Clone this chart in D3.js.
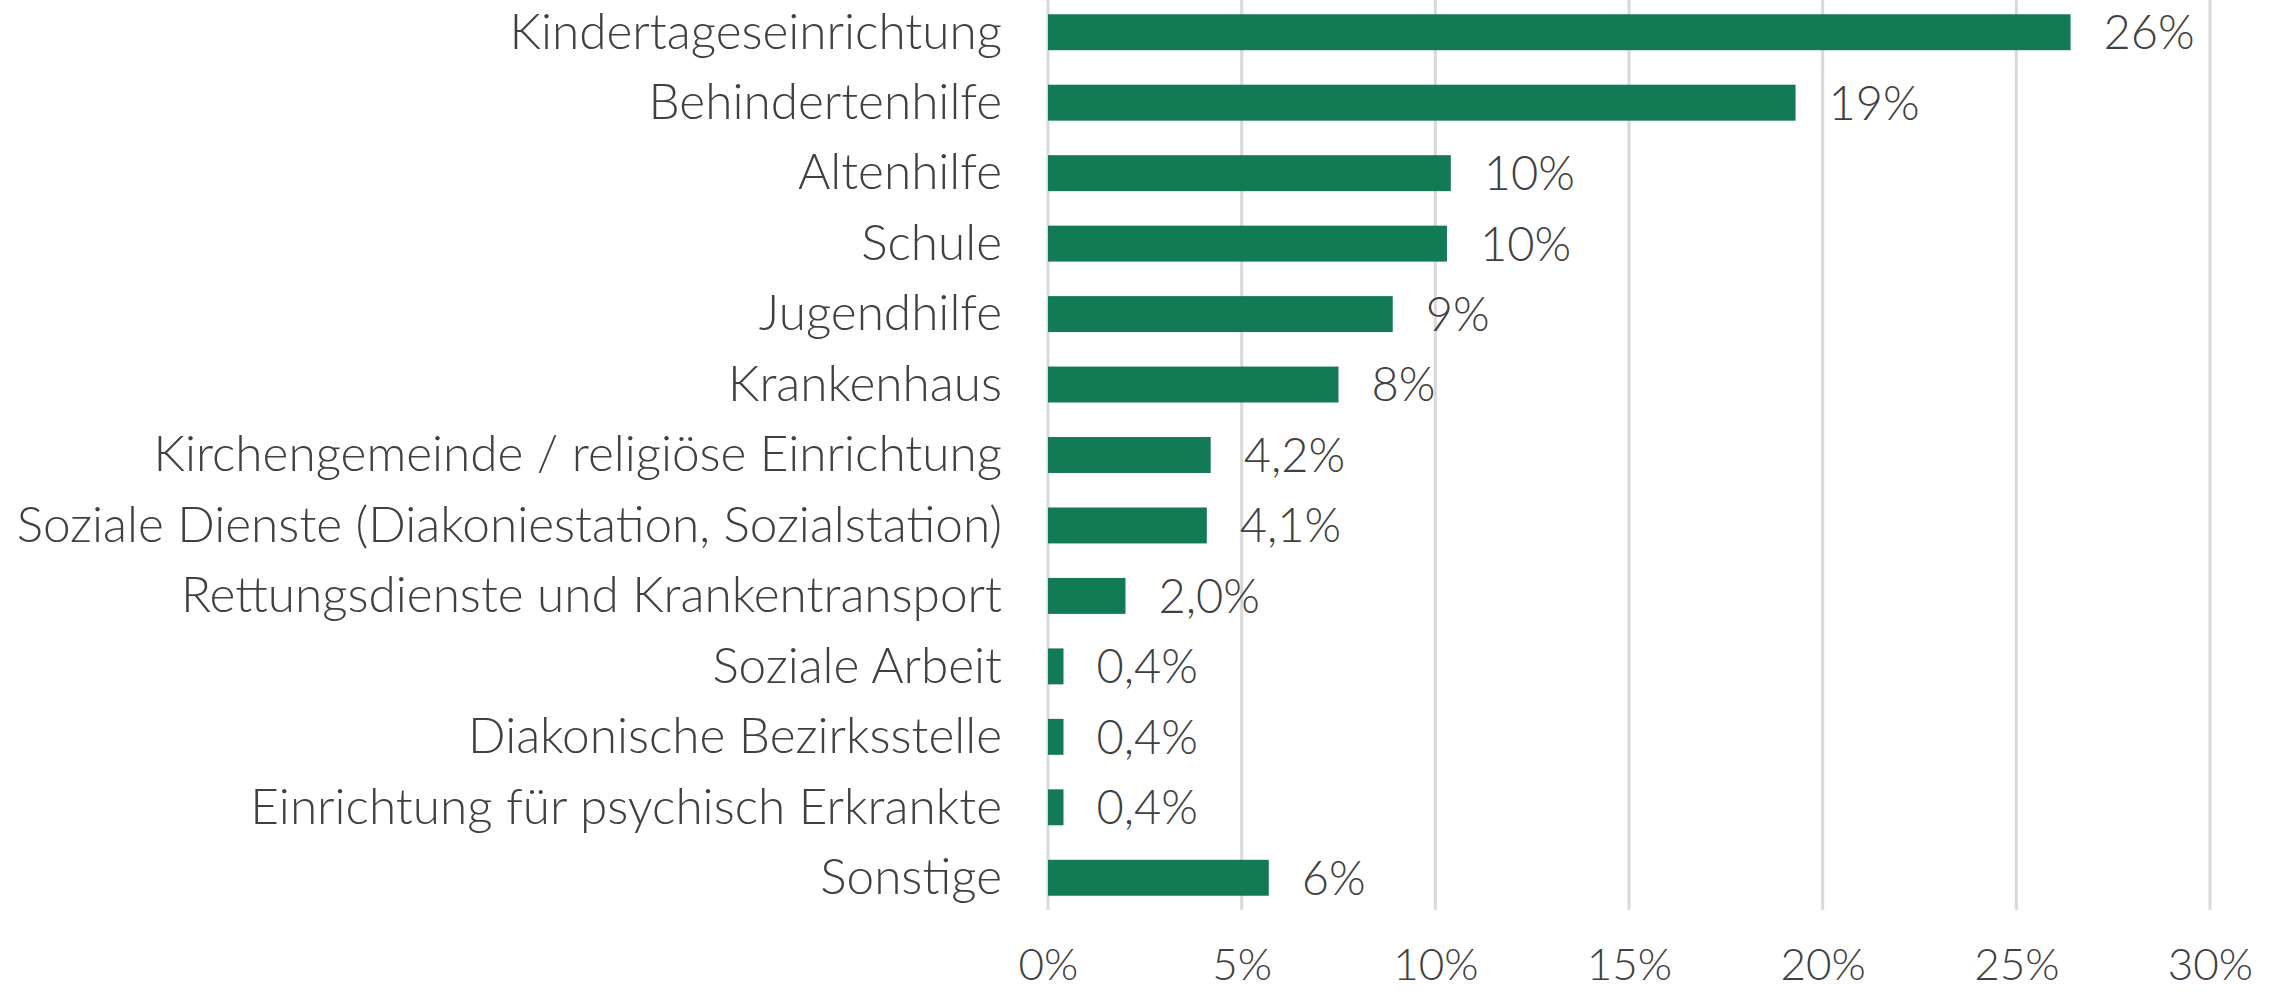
<html>
  <head>
    <style>
      body { margin: 0; background: #fff; }
      text { font-family: Lato, "Open Sans", sans-serif; font-weight: 300; fill: #404040; }
      .cat-text { font-size: 49.5px; }
      .val-text { font-size: 47px; }
      .tick text { font-size: 44px; }
    </style>
  </head>
  <body>
    <div id="chart"></div>
    <script src="https://d3js.org/d3.v7.min.js"></script>
    <script>
      var categories = [
        "Kindertageseinrichtung",
        "Behindertenhilfe",
        "Altenhilfe",
        "Schule",
        "Jugendhilfe",
        "Krankenhaus",
        "Kirchengemeinde / religiöse Einrichtung",
        "Soziale Dienste (Diakoniestation, Sozialstation)",
        "Rettungsdienste und Krankentransport",
        "Soziale Arbeit",
        "Diakonische Bezirksstelle",
        "Einrichtung für psychisch Erkrankte",
        "Sonstige"
      ];
      var values = [26.4, 19.3, 10.4, 10.3, 8.9, 7.5, 4.2, 4.1, 2.0, 0.4, 0.4, 0.4, 5.7];
      var valueLabels = ["26%", "19%", "10%", "10%", "9%", "8%", "4,2%", "4,1%", "2,0%", "0,4%", "0,4%", "0,4%", "6%"];
      var ticks = [0, 5, 10, 15, 20, 25, 30];

      var width = 2282;
      var height = 991;
      var plotLeft = 1048, plotRight = 2210, plotTop = -3, plotBottom = 913;

      var svg = d3.select("#chart")
        .append("svg")
        .attr("width", width)
        .attr("height", height);

      var x = d3.scaleLinear().domain([0, 30]).range([plotLeft, plotRight]);
      var y = d3.scaleBand().domain(categories).range([plotTop, plotBottom]).paddingInner(0.49).paddingOuter(0.245);

      // gridlines
      svg.append("g")
        .selectAll("line")
        .data(ticks)
        .enter()
        .append("line")
        .attr("x1", d => x(d))
        .attr("x2", d => x(d))
        .attr("y1", 0)
        .attr("y2", 910)
        .attr("stroke", "#d9d9d9")
        .attr("stroke-width", 3);

      // x axis labels
      var xAxis = d3.axisBottom(x).tickValues(ticks).tickSize(0).tickPadding(0).tickFormat(d => d + "%");
      var ax = svg.append("g")
        .attr("transform", "translate(0, 949)")
        .call(xAxis);
      ax.select(".domain").remove();
      ax.selectAll("text").attr("fill", "#404040").style("font-family", "Lato, 'Open Sans', sans-serif");

      // bars
      svg.append("g")
        .selectAll("rect")
        .data(values)
        .enter()
        .append("rect")
        .attr("x", x(0))
        .attr("y", (d, i) => y(categories[i]))
        .attr("width", d => x(d) - x(0))
        .attr("height", y.bandwidth())
        .attr("fill", "#127b56");

      // category labels
      svg.append("g")
        .selectAll("text")
        .data(categories)
        .enter()
        .append("text")
        .attr("class", "cat-text")
        .attr("x", x(0) - 46)
        .attr("y", d => y(d) + y.bandwidth() / 2)
        .attr("dy", "0.33em")
        .attr("text-anchor", "end")
        .text(d => d);

      // value labels
      svg.append("g")
        .selectAll("text")
        .data(values)
        .enter()
        .append("text")
        .attr("class", "val-text")
        .attr("x", d => x(d) + 33)
        .attr("y", (d, i) => y(categories[i]) + y.bandwidth() / 2)
        .attr("dy", "0.36em")
        .text((d, i) => valueLabels[i]);
    </script>
  </body>
</html>
